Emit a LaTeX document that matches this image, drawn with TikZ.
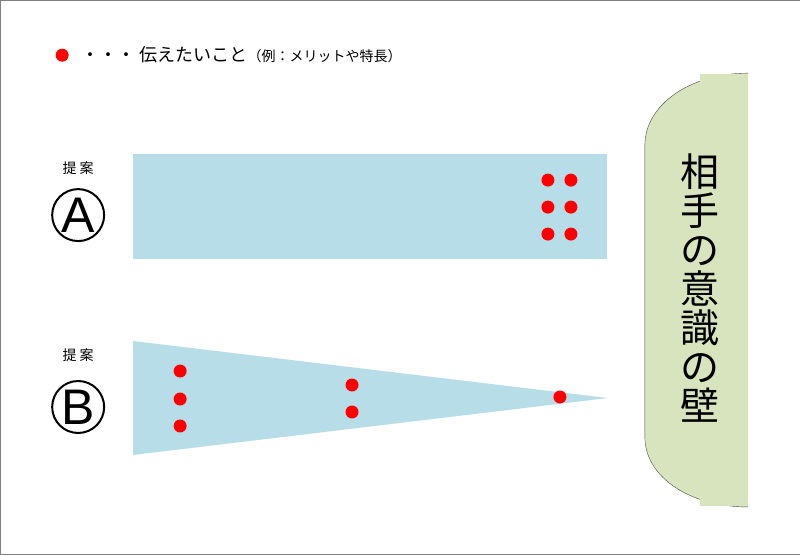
\documentclass[tikz,border=0pt]{standalone}
\usepackage{fontspec}
\newfontfamily\cjk{Noto Sans CJK JP}
\newfontfamily\latin{Liberation Sans}
\definecolor{boxblue}{HTML}{B7DDE8}
\definecolor{wallgreen}{HTML}{D7E4BD}
\usetikzlibrary{positioning}

\begin{document}
\begin{tikzpicture}[x=1pt,y=-1pt,font=\cjk]

    \tikzstyle{dot}=[circle,fill=red,inner sep=0pt,minimum size=13pt]
    \tikzstyle{label}=[font=\cjk\fontsize{14}{14}\selectfont]
    \tikzstyle{letter}=[circle,draw=black,line width=2pt,minimum size=52pt,inner sep=0pt,font=\latin\fontsize{50}{50}\selectfont]

    \draw[gray,fill=white] (0,0) rectangle (800,554);

    % legend
    \node[dot] (key) at (62,55) {};
    \node[anchor=west,font=\cjk\fontsize{18}{18}\selectfont] (keytext) at (78,55)
        {・・・ 伝えたいこと\fontsize{14}{14}\selectfont（例：メリットや特長）};

    % proposal A
    \node[label] (pa) at (78,168) {提 案};
    \node[letter] (A) at (78,215) {A};
    \fill[boxblue] (133,154) rectangle (607,259);
    \foreach \x in {548,571}
        \foreach \y in {180,207,234}
            \node[dot] at (\x,\y) {};

    % proposal B
    \node[label] (pb) at (78,355) {提 案};
    \node[letter] (B) at (78,407) {B};
    \fill[boxblue] (133,341) -- (608,398) -- (133,455) -- cycle;
    \foreach \x/\y in {180/371,180/399,180/426,352/385,352/412,560/397}
        \node[dot] at (\x,\y) {};

    % wall
    \draw[fill=wallgreen,draw=black!70] (748,73) .. controls (690,73) and (645,105) .. (645,145)
        -- (645,437) .. controls (645,477) and (690,507) .. (748,507);
    \fill[wallgreen] (700,74) rectangle (748,506);
    \node[align=center,font=\cjk\fontsize{39}{39}\selectfont] (wall) at (700,288)
        {相\\手\\の\\意\\識\\の\\壁};

\end{tikzpicture}
\end{document}
